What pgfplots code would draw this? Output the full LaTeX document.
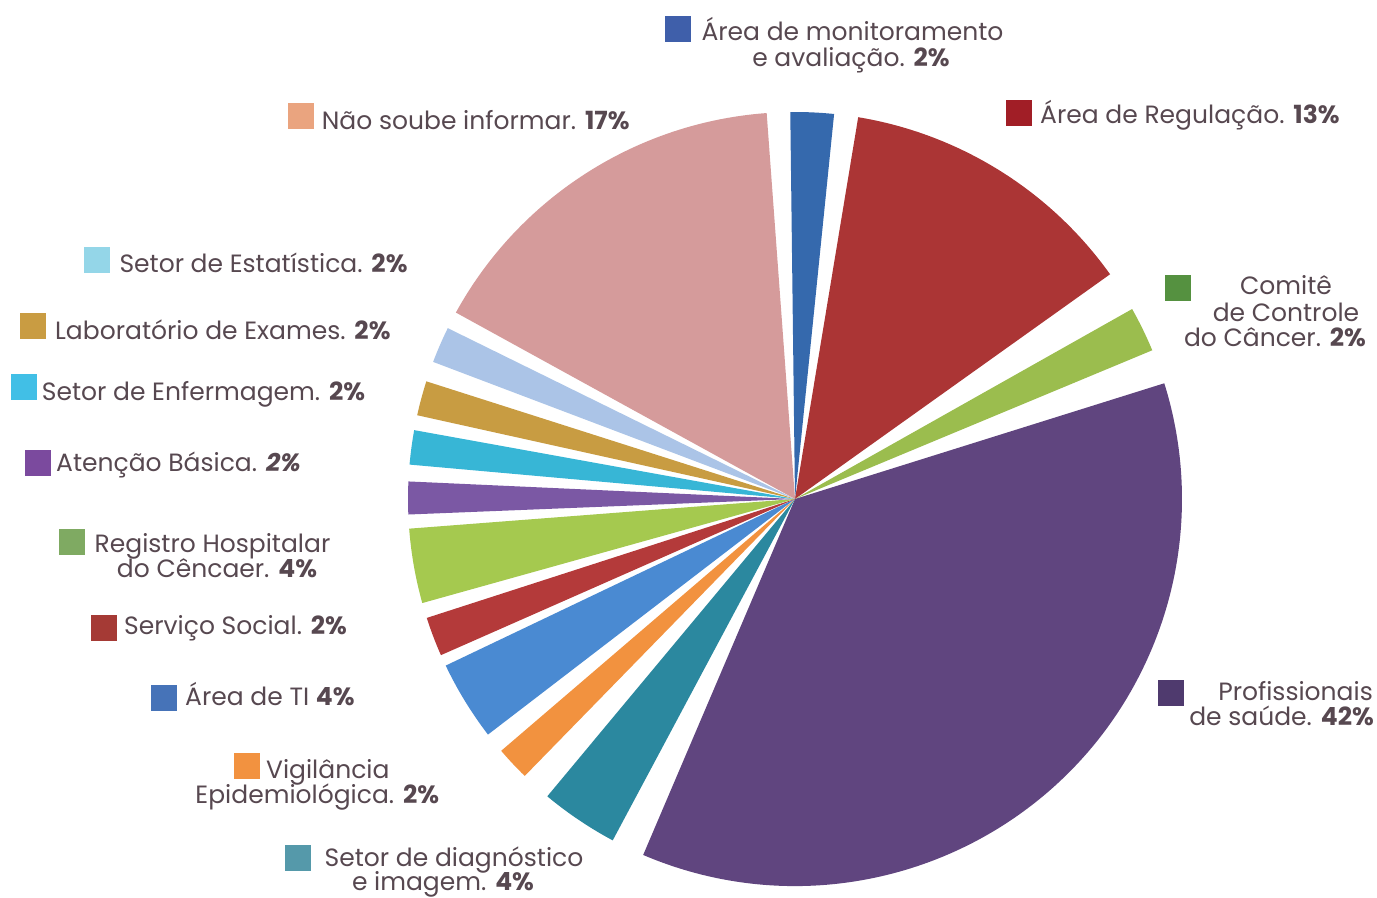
\documentclass[border=0pt]{standalone}
\usepackage{pgfplots}
\pgfplotsset{compat=1.18}
\usepackage{fontspec}
\setmainfont{Poppins}
\definecolor{txt}{HTML}{574850}
% slice colours
\definecolor{sMon}{HTML}{3569AD}
\definecolor{sReg}{HTML}{AB3535}
\definecolor{sCom}{HTML}{9BBD4E}
\definecolor{sPro}{HTML}{60457F}
\definecolor{sDia}{HTML}{2B889F}
\definecolor{sVig}{HTML}{F2923F}
\definecolor{sTI}{HTML}{4A8AD2}
\definecolor{sSer}{HTML}{B43A3A}
\definecolor{sRHC}{HTML}{A5C94F}
\definecolor{sAte}{HTML}{7B58A4}
\definecolor{sEnf}{HTML}{37B6D6}
\definecolor{sLab}{HTML}{C89C42}
\definecolor{sEst}{HTML}{ABC4E7}
\definecolor{sNao}{HTML}{D59B9B}
% legend square colours
\definecolor{lMon}{HTML}{3F5FAA}
\definecolor{lReg}{HTML}{A11E26}
\definecolor{lCom}{HTML}{559140}
\definecolor{lPro}{HTML}{4F3A6E}
\definecolor{lDia}{HTML}{5599AA}
\definecolor{lVig}{HTML}{F29240}
\definecolor{lTI}{HTML}{4673B8}
\definecolor{lSer}{HTML}{A53A35}
\definecolor{lRHC}{HTML}{7FAA62}
\definecolor{lAte}{HTML}{7B4A9E}
\definecolor{lEnf}{HTML}{41BFE6}
\definecolor{lLab}{HTML}{C99C42}
\definecolor{lEst}{HTML}{94D6E8}
\definecolor{lNao}{HTML}{EAA47F}
% slice: start angle, end angle, colour (centre 795,399; radius 387)
\newcommand\slice[3]{\fill[#3] (axis cs:795,399) -- ++(#1:387bp) arc[start angle=#1, end angle=#2, radius=387bp] -- cycle;}
\newcommand\sq[3]{\fill[#3] (axis cs:#1,#2) rectangle (axis cs:#1+26,#2+26);}
\begin{document}
\begin{tikzpicture}[every node/.style={font=\fontsize{25bp}{26bp}\selectfont, text=txt, inner sep=0pt}]
\begin{axis}[scale only axis, width=1377bp, height=898bp,
  xmin=0, xmax=1377, ymin=0, ymax=898, hide axis, clip=false]
% slices (angles in degrees, counter-clockwise from east)
\slice{84.2}{90.7}{sMon}
\slice{35.5}{80.6}{sReg}
\slice{22.6}{29.4}{sCom}
\slice{-113.1}{17.4}{sPro}
\slice{-129.8}{-118.1}{sDia}
\slice{-139.4}{-134.3}{sVig}
\slice{-154.5}{-142.5}{sTI}
\slice{-162.1}{-156.2}{sSer}
\slice{-175.6}{-164.4}{sRHC}
\slice{177.4}{182.3}{sAte}
\slice{169.75}{174.9}{sEnf}
\slice{162.3}{167.5}{sLab}
\slice{153.8}{159.25}{sEst}
\slice{94.2}{151.2}{sNao}
% legend squares
\sq{665}{856}{lMon}
\sq{288}{769}{lNao}
\sq{1006}{772}{lReg}
\sq{1165}{597}{lCom}
\sq{1158}{192}{lPro}
\sq{84}{625}{lEst}
\sq{20}{559}{lLab}
\sq{11}{498}{lEnf}
\sq{25}{422}{lAte}
\sq{59}{343}{lRHC}
\sq{91}{257}{lSer}
\sq{151}{187}{lTI}
\sq{234}{119}{lVig}
\sq{285}{27}{lDia}
% labels
\node[anchor=base] at (axis cs:852.5,857.5) {Área de monitoramento};
\node[anchor=base] at (axis cs:851,831.5) {e avaliação. \textbf{2\%}};
\node[anchor=base west] at (axis cs:321.7,768.5) {Não soube informar. \textbf{17\%}};
\node[anchor=base west] at (axis cs:1040,774.7) {Área de Regulação. \textbf{13\%}};
\node[anchor=base] at (axis cs:1286,603) {Comitê};
\node[anchor=base] at (axis cs:1286,576.5) {de Controle};
\node[anchor=base] at (axis cs:1275,551) {do Câncer. \textbf{2\%}};
\node[anchor=base east] at (axis cs:1373,197) {Profissionais};
\node[anchor=base east] at (axis cs:1374,172) {de saúde. \textbf{42\%}};
\node[anchor=base west] at (axis cs:119.3,625) {Setor de Estatística. \textbf{2\%}};
\node[anchor=base west] at (axis cs:55,558.7) {Laboratório de Exames. \textbf{2\%}};
\node[anchor=base west] at (axis cs:41.7,497.5) {Setor de Enfermagem. \textbf{2\%}};
\node[anchor=base west] at (axis cs:56,426.3) {Atenção Básica. \textbf{\textit{2\%}}};
\node[anchor=base] at (axis cs:212.5,345.7) {Registro Hospitalar};
\node[anchor=base] at (axis cs:217,320.5) {do Cêncaer. \textbf{4\%}};
\node[anchor=base west] at (axis cs:124,263) {Serviço Social. \textbf{2\%}};
\node[anchor=base west] at (axis cs:185,192.3) {Área de TI \textbf{4\%}};
\node[anchor=base] at (axis cs:327.8,119.7) {Vigilância};
\node[anchor=base] at (axis cs:317.3,94) {Epidemiológica. \textbf{2\%}};
\node[anchor=base] at (axis cs:454,31.5) {Setor de diagnóstico};
\node[anchor=base] at (axis cs:443,7.5) {e imagem. \textbf{4\%}};
\end{axis}
\pgfresetboundingbox
\path[use as bounding box] (current axis.south west) rectangle (current axis.north east);
\end{tikzpicture}
\end{document}
